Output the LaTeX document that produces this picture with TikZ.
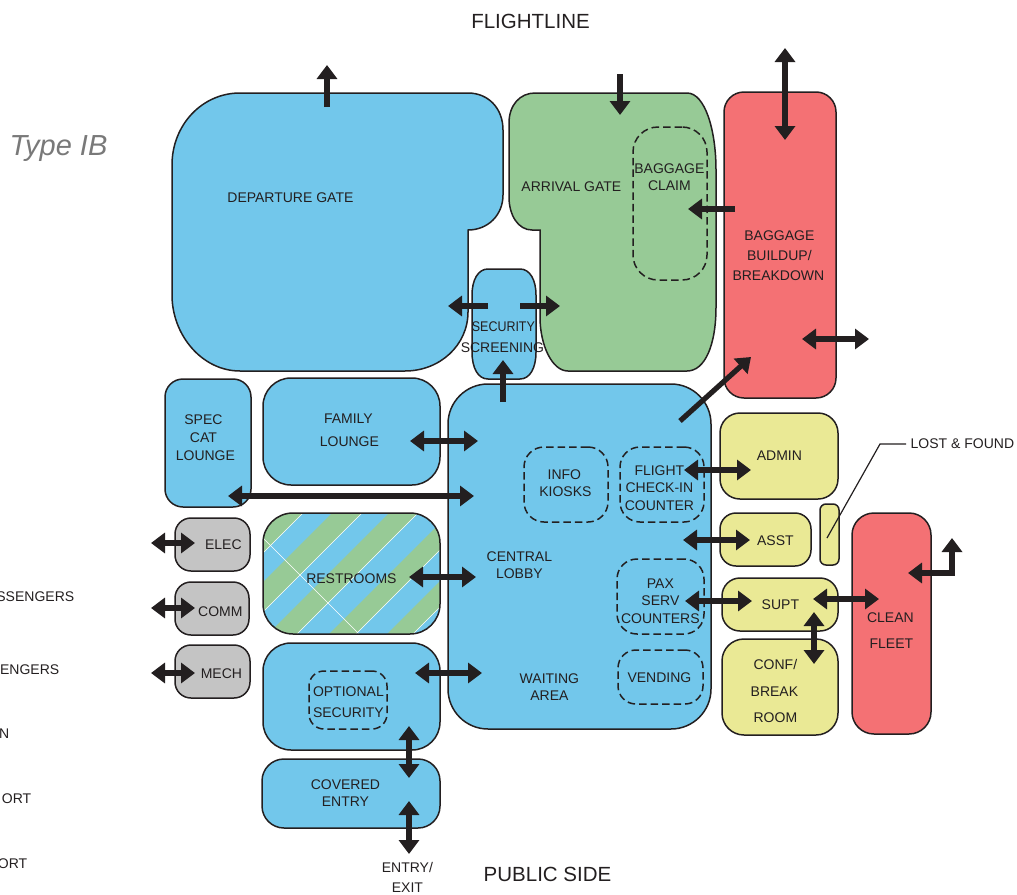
\documentclass[tikz,border=0pt]{standalone}
\usepackage{fontspec}
\setmainfont{Liberation Sans}
\usetikzlibrary{arrows.meta}
\definecolor{ink}{HTML}{231F20}
\definecolor{cblue}{HTML}{72C7EB}
\definecolor{cgreen}{HTML}{97CA96}
\definecolor{cred}{HTML}{F47174}
\definecolor{cyel}{HTML}{EAE995}
\definecolor{cgray}{HTML}{C4C4C4}
\tikzset{
  room/.style={draw=ink,line width=1.5pt,inner sep=0pt,outer sep=0pt},
  dashbox/.style={draw=ink,line width=1.5pt,dash pattern=on 7.5pt off 4pt,inner sep=0pt,outer sep=0pt},
  lbl/.style={text=ink,inner sep=0pt,yshift=-0.8pt,xshift=0.4pt,font=\fontsize{14}{14}\selectfont},
  big/.style={text=ink,inner sep=0pt,font=\fontsize{20.5}{20.5}\selectfont},
  one/.style={draw=ink,line width=5.2pt,-{Triangle[length=14pt,width=20pt]}},
  two/.style={draw=ink,line width=5.2pt,{Triangle[length=14pt,width=20pt]}-{Triangle[length=14pt,width=20pt]}},
}
% \Room{name}{x0}{y0}{x1}{y1}{radius}{style}
\newcommand\Room[7]{%
  \pgfmathsetmacro\rw{#4-#2}\pgfmathsetmacro\rh{#5-#3}%
  \pgfmathsetmacro\rx{(#2+#4)/2}\pgfmathsetmacro\ry{(#3+#5)/2}%
  \node[rectangle,rounded corners=#6pt,minimum width=\rw pt,minimum height=\rh pt,#7] (#1) at (\rx,\ry) {};}
\newcommand\Lab[3]{\node[lbl] (#1) at (#2) {#3};}
\begin{document}
\begin{tikzpicture}[x=1pt,y=-1pt]
\useasboundingbox (0,0) rectangle (1017,894);
% irregular rooms
\draw[room,fill=cblue] (240,93) -- (468,93) .. controls (488,93) and (503,108) .. (503,130) -- (503,195) .. controls (503,215) and (488,230) .. (468,230) -- (468,312) .. controls (468,345) and (440,371) .. (405,371) -- (240,371) .. controls (202,371) and (172,335) .. (172,295) -- (172,165) .. controls (172,125) and (202,93) .. (240,93) -- cycle;
\draw[room,fill=cgreen] (535,93) -- (687,93) .. controls (705,93) and (716,130) .. (716,170) -- (716,307) .. controls (716,345) and (705,371) .. (687,371) -- (568,371) .. controls (552,371) and (540,345) .. (540,317) -- (540,230) -- (532,230) .. controls (518,230) and (509,215) .. (509,197) -- (509,123) .. controls (509,105) and (520,93) .. (535,93) -- cycle;
% regular rooms
\Room{bagbuild}{724}{92}{836}{398}{20}{room,fill=cred}
\draw[room,fill=cblue] (488,269) -- (520,269) .. controls (530,269) and (536,280) .. (536,295) -- (536,352) .. controls (536,368) and (530,379) .. (520,379) -- (488,379) .. controls (478,379) and (472,368) .. (472,352) -- (472,295) .. controls (472,280) and (478,269) .. (488,269) -- cycle;
\Room{lobby}{448}{384}{711}{729}{40}{room,fill=cblue}
\Room{spec}{165}{379}{251}{507}{18}{room,fill=cblue}
\Room{family}{263}{378}{440}{485}{28}{room,fill=cblue}
% restrooms stripes
\begin{scope}
  \clip[rounded corners=30pt] (263,513) rectangle (440,634);
  \fill[cblue] (263,513) rectangle (440,634);
  \foreach \a/\b in {760/816,845/875,902/931,963/990,1021/1047}{
    \fill[cgreen] (\a-500,500) -- (\a-650,650) -- (\b-650,650) -- (\b-500,500) -- cycle;
    \draw[white,line width=.6pt] (\b-500,500) -- (\b-650,650);
  }
  \draw[white,line width=.6pt] (263,538) -- (363,638);
\end{scope}
\Room{restrooms}{263}{513}{440}{634}{30}{room}
\Room{entryroom}{263}{643}{440}{750}{28}{room,fill=cblue}
\Room{covered}{262}{759}{440}{828}{22}{room,fill=cblue}
\Room{elec}{175}{518}{250}{571}{16}{room,fill=cgray}
\Room{comm}{175}{582}{249}{635}{16}{room,fill=cgray}
\Room{mech}{175}{645}{250}{698}{16}{room,fill=cgray}
\Room{admin}{720}{413}{838}{499}{20}{room,fill=cyel}
\Room{asst}{720}{513}{811}{566}{16}{room,fill=cyel}
\Room{lost}{820}{504}{839}{565}{6}{room,fill=cyel}
\Room{supt}{722}{578}{838}{631}{18}{room,fill=cyel}
\Room{conf}{722}{639}{838}{735}{22}{room,fill=cyel}
\Room{clean}{852}{513}{931}{734}{22}{room,fill=cred}
% dashed areas
\Room{bagclaim}{633}{127}{707}{280}{25}{dashbox}
\Room{optsec}{309}{671}{387}{729}{15}{dashbox}
\Room{flight}{620}{447}{704}{522}{20}{dashbox}
\Room{info}{524}{447}{608}{522}{20}{dashbox}
\Room{pax}{617}{559}{704}{634}{20}{dashbox}
\Room{vend}{618}{650}{703}{704}{18}{dashbox}
% leader
\coordinate (lfa) at (827,538); \coordinate (lfb) at (880,444); \coordinate (lfc) at (906,444);
\draw[ink,line width=1.2pt] (lfa) -- (lfb) -- (lfc);
% titles
\node[big] (t1) at (530.5,21) {FLIGHTLINE};
\node[big] (t2) at (547.5,874) {PUBLIC SIDE};
\node[inner sep=0pt,text=gray!95!black,font=\fontsize{29}{29}\selectfont\itshape] (t3) at (58.5,149) {Type IB};
% labels
\Lab{l1}{290,197}{DEPARTURE GATE}
\Lab{l2}{571,186}{ARRIVAL GATE}
\Lab{l3}{669,168}{BAGGAGE}
\Lab{l4}{669,185}{CLAIM}
\Lab{l5}{779,235}{BAGGAGE}
\Lab{l6}{779,255}{BUILDUP/}
\Lab{l7}{778,275}{BREAKDOWN}
\Lab{l8}{503,326}{\scalebox{.89}[1]{SECURITY}}
\Lab{l9}{502,347}{SCREENING}
\Lab{l10}{203,419}{SPEC}
\Lab{l11}{203,437}{CAT}
\Lab{l12}{205,455}{LOUNGE}
\Lab{l13}{348,418}{FAMILY}
\Lab{l14}{349,441}{LOUNGE}
\Lab{l15}{564,474}{INFO}
\Lab{l16}{565,491}{KIOSKS}
\Lab{l17}{659,470}{FLIGHT}
\Lab{l18}{659,487}{CHECK-IN}
\Lab{l19}{659,505}{COUNTER}
\Lab{l20}{519,556}{CENTRAL}
\Lab{l21}{519,573}{LOBBY}
\Lab{l22}{351,578}{RESTROOMS}
\Lab{l23}{660,583}{PAX}
\Lab{l24}{660,600}{SERV}
\Lab{l25}{660,618}{COUNTERS}
\Lab{l26}{659,677}{VENDING}
\Lab{l27}{549,678}{WAITING}
\Lab{l28}{549,695}{AREA}
\Lab{l29}{348,691}{OPTIONAL}
\Lab{l30}{348,712}{SECURITY}
\Lab{l31}{345,784}{COVERED}
\Lab{l32}{345,801}{ENTRY}
\Lab{l33}{407,867}{ENTRY/}
\Lab{l34}{407,887}{EXIT}
\Lab{l35}{223,544}{ELEC}
\Lab{l36}{220,611}{COMM}
\Lab{l37}{221,673}{MECH}
\Lab{l38}{779,455}{ADMIN}
\Lab{l39}{775,540}{ASST}
\Lab{l40}{780,604}{SUPT}
\Lab{l41}{775,664}{CONF/}
\Lab{l42}{774,691}{BREAK}
\Lab{l43}{775,717}{ROOM}
\Lab{l44}{890,617}{CLEAN}
\Lab{l45}{891,643}{FLEET}
\Lab{l46}{962,443}{LOST \& FOUND}
\node[lbl,anchor=east] (c1) at (74,596) {SSENGERS};
\node[lbl,anchor=east] (c2) at (59,669) {ENGERS};
\node[lbl,anchor=east] (c3) at (9,733) {N};
\node[lbl,anchor=east] (c4) at (31,798) {ORT};
\node[lbl,anchor=east] (c5) at (27,863) {ORT};
% connector ends
\foreach \n/\p in {a1/{327,107},a2/{327,65},b1/{620,74},b2/{620,115},c1a/{785,48},c2a/{785,140},
  d1/{735,209},d2/{688,209},e1/{488,306},e2/{448,306},f1/{520,306},f2/{560,306},g1/{503,402},g2/{503,360},
  h1/{680,421},h2/{751,357},i1/{802,339},i2/{869,339},j1/{410,441},j2/{478,441},k1/{228,496},k2/{474,496},
  m1/{409,577},m2/{476,577},n1/{415,673},n2/{482,673},o1/{409,726},o2/{409,778},p1/{409,801},p2/{409,854},
  q1/{151,543},q2/{195,543},r1/{151,608},r2/{195,608},s1/{151,673},s2/{195,673},
  t1a/{684,470},t2a/{751,470},u1/{683,540},u2/{750,540},v1/{685,601},v2/{752,601},
  w1/{813,599},w2/{879,599},y1/{814,612},y2/{814,664},z1/{908,573},z2/{952,538}}
  {\coordinate (\n) at (\p);}
\draw[one] (a1) -- (a2);
\draw[one] (b1) -- (b2);
\draw[two] (c1a) -- (c2a);
\draw[one] (d1) -- (d2);
\draw[one] (e1) -- (e2);
\draw[one] (f1) -- (f2);
\draw[one] (g1) -- (g2);
\draw[one] (h1) -- (h2);
\draw[two] (i1) -- (i2);
\draw[two] (j1) -- (j2);
\draw[two] (k1) -- (k2);
\draw[two] (m1) -- (m2);
\draw[two] (n1) -- (n2);
\draw[two] (o1) -- (o2);
\draw[two] (p1) -- (p2);
\draw[two] (q1) -- (q2);
\draw[two] (r1) -- (r2);
\draw[two] (s1) -- (s2);
\draw[two] (t1a) -- (t2a);
\draw[two] (u1) -- (u2);
\draw[two] (v1) -- (v2);
\draw[two] (w1) -- (w2);
\draw[two] (y1) -- (y2);
\draw[two] (z1) -| (z2);
\end{tikzpicture}
\end{document}
